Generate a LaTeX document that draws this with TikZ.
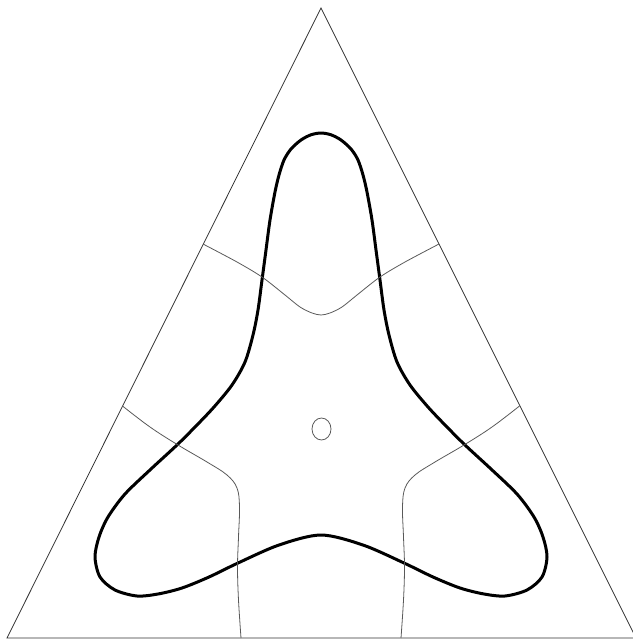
\documentclass[tikz,border=0pt]{standalone}
\begin{document}
\begin{tikzpicture}[x=1pt,y=-1pt,
  frame/.style={draw=black!80,line width=0.8pt,line join=miter},
  thincurve/.style={draw=black!65,line width=0.8pt},
  thickcurve/.style={draw=black,line width=3pt,line join=round}]
\useasboundingbox (0,0) rectangle (632,642);
% triangle
\draw[frame] (7,638) -- (321,8) -- (636,638) -- cycle;
% thick trefoil curve
\draw[thickcurve] plot[smooth cycle,tension=0.5] coordinates {
 (321,133) (331,134.8) (341,140) (351,149) (358,160) (363,175) (367,192)
 (372,220) (376,250) (380,280) (384,310) (389,335) (397,362) (410,385)
 (428,407) (446,426) (465,445) (491,469) (517,494) (534,517) (543,537)
 (547,557) (542,577) (527,590) (505,596) (484,594) (460,588) (433,577)
 (404,563) (363,545) (321,535)
 (279,545) (238,563) (209,577) (182,588) (158,594) (137,596) (115,590)
 (100,577) (95,557) (99,537) (108,517) (125,494) (151,469) (177,445)
 (196,426) (214,407) (232,385) (245,362) (253,335) (258,310) (262,280)
 (266,250) (270,220) (275,192) (279,175) (284,160) (291,149) (301,140)
 (311,134.8)};
% thin upper curve
\draw[thincurve] plot[smooth,tension=0.5] coordinates {
 (203,244) (237,262) (262,277) (285,295) (300,307) (312,313) (321,315)
 (330,313) (342,307) (357,295) (380,277) (405,262) (439,244)};
% thin lower-left curve
\draw[thincurve] plot[smooth,tension=0.6] coordinates {
 (122.5,406) (150,427) (178,445) (207,462) (227,475) (237,488) (239.5,507) (238.5,537) (237.5,567) (238.5,600) (241,638)};
% thin lower-right curve
\draw[thincurve] plot[smooth,tension=0.6] coordinates {
 (519.5,406) (492,427) (464,445) (435,462) (415,475) (405,488) (402.5,507) (403.5,537) (404.5,567) (403.5,600) (401,638)};
% small central oval
\draw[thincurve] (321.5,429) ellipse [x radius=9.5pt, y radius=11pt];
\end{tikzpicture}
\end{document}
